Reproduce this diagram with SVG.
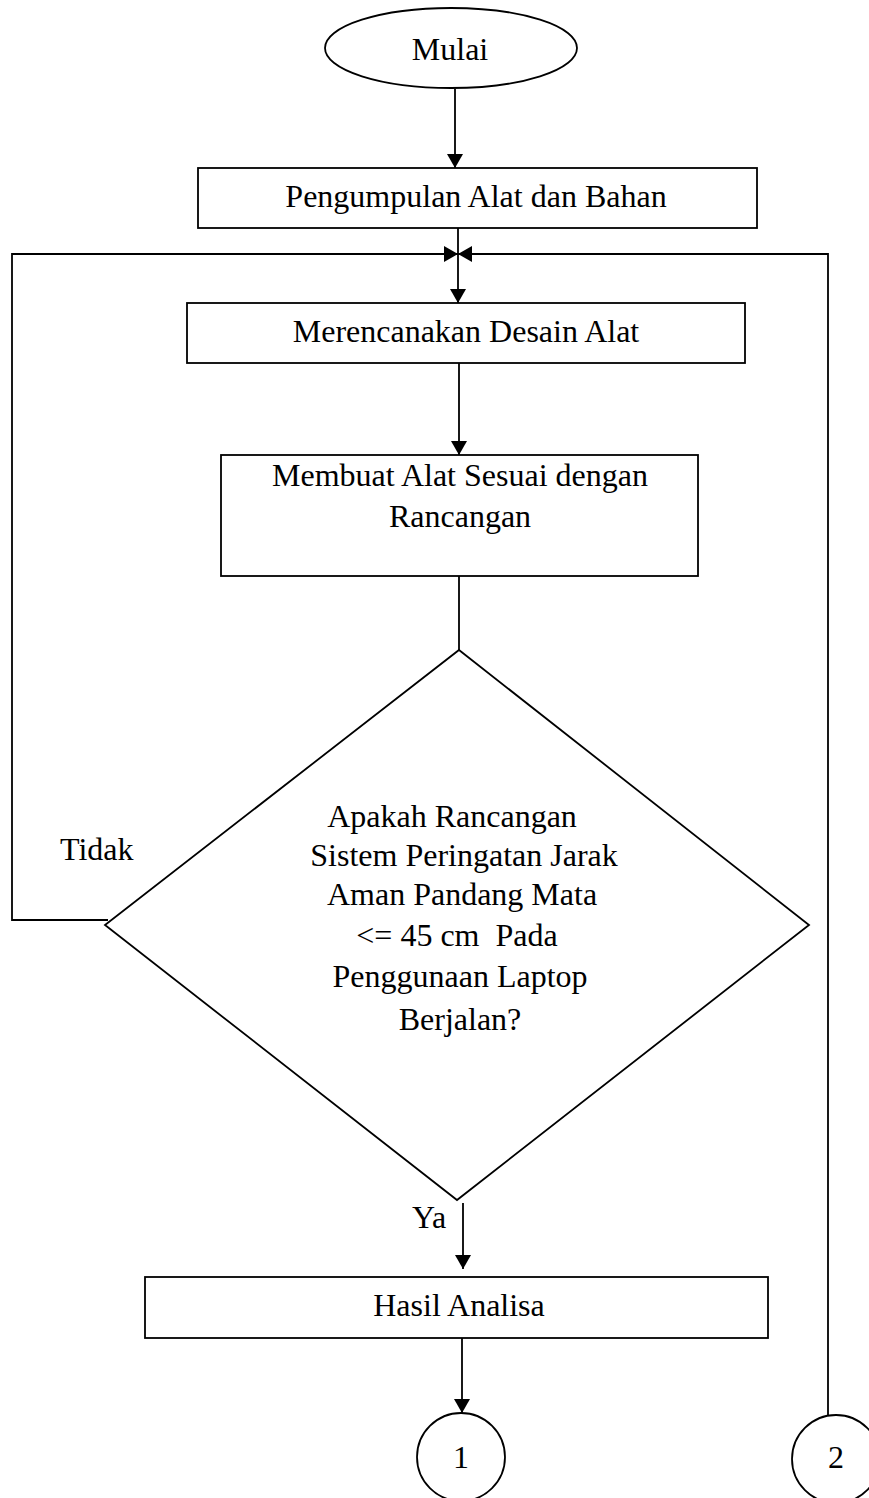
<svg xmlns="http://www.w3.org/2000/svg" width="869" height="1498" viewBox="0 0 869 1498">
<style>
.s{fill:#fff;stroke:#000;stroke-width:1.8}
.l{fill:none;stroke:#000;stroke-width:1.8}
.t{font-family:"Liberation Serif","Times New Roman",serif;font-size:32px;fill:#000}
.c{text-anchor:middle}
</style>
<defs>
<marker id="ah" viewBox="0 0 14 16" refX="14" refY="8" markerWidth="14" markerHeight="16" markerUnits="userSpaceOnUse" orient="auto">
<path d="M0,0 L14,8 L0,16 Z" fill="#000"/>
</marker>
</defs>
<rect width="869" height="1498" fill="#fff"/>
<g id="connectors">
<line class="l" x1="455" y1="89" x2="455" y2="168" marker-end="url(#ah)"/>
<line class="l" x1="458" y1="228" x2="458" y2="303" marker-end="url(#ah)"/>
<polyline class="l" points="108,920 12,920 12,254 458,254" marker-end="url(#ah)"/>
<polyline class="l" points="828,1415 828,254 458,254" marker-end="url(#ah)"/>
<line class="l" x1="459" y1="363" x2="459" y2="455" marker-end="url(#ah)"/>
<line class="l" x1="459" y1="576" x2="459" y2="650"/>
<line class="l" x1="463" y1="1203" x2="463" y2="1269" marker-end="url(#ah)"/>
<line class="l" x1="462" y1="1338" x2="462" y2="1413" marker-end="url(#ah)"/>
<text class="t" x="60" y="860">Tidak</text>
<text class="t" x="412" y="1228">Ya</text>
</g>
<g id="mulai">
<ellipse class="s" cx="451" cy="48" rx="126" ry="40"/>
<text class="t c" x="450" y="60">Mulai</text>
</g>
<g id="pengumpulan">
<rect class="s" x="198" y="168" width="559" height="60"/>
<text class="t c" x="476" y="207">Pengumpulan Alat dan Bahan</text>
</g>
<g id="merencanakan">
<rect class="s" x="187" y="303" width="558" height="60"/>
<text class="t c" x="466" y="342">Merencanakan Desain Alat</text>
</g>
<g id="membuat">
<rect class="s" x="221" y="455" width="477" height="121"/>
<text class="t c" x="460" y="486">Membuat Alat Sesuai dengan</text>
<text class="t c" x="460" y="527">Rancangan</text>
</g>
<g id="keputusan">
<polygon class="s" points="459,650 809,925 457,1200 105,925"/>
<text class="t c" x="452" y="827">Apakah Rancangan</text>
<text class="t c" x="464" y="866">Sistem Peringatan Jarak</text>
<text class="t c" x="462" y="905">Aman Pandang Mata</text>
<text class="t c" x="457" y="946">&lt;= 45 cm&#160; Pada</text>
<text class="t c" x="460" y="987">Penggunaan Laptop</text>
<text class="t c" x="460" y="1030">Berjalan?</text>
</g>
<g id="hasil">
<rect class="s" x="145" y="1277" width="623" height="61"/>
<text class="t c" x="459" y="1316">Hasil Analisa</text>
</g>
<g id="konektor1">
<circle class="s" cx="461" cy="1457" r="44"/>
<text class="t c" x="461" y="1468">1</text>
</g>
<g id="konektor2">
<circle class="s" cx="836" cy="1459" r="44"/>
<text class="t c" x="836" y="1468">2</text>
</g>
</svg>
